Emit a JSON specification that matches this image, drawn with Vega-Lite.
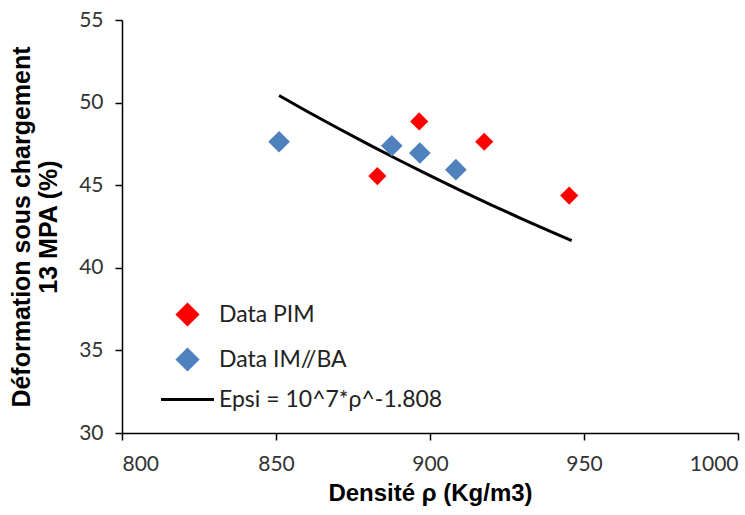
{
  "$schema": "https://vega.github.io/schema/vega-lite/v6.json",
  "autosize": {"type": "none"},
  "width": 616,
  "height": 413,
  "padding": {"left": 122, "top": 20, "right": 7, "bottom": 82},
  "background": "white",
  "config": {
    "view": {"stroke": null},
    "axis": {
      "grid": false,
      "domainColor": "black",
      "domainWidth": 1.5,
      "tickColor": "black",
      "tickWidth": 1.5,
      "tickSize": 7,
      "labelFont": "Lato",
      "labelFontSize": 21,
      "labelColor": "#333333",
      "titleFont": "Liberation Sans",
      "titleFontSize": 23,
      "titleFontWeight": "bold",
      "titleColor": "black"
    }
  },
  "datasets": {
    "pts": [
      {"rho": 882.9, "eps": 45.55, "s": "Data PIM"},
      {"rho": 896.5, "eps": 48.86, "s": "Data PIM"},
      {"rho": 917.6, "eps": 47.63, "s": "Data PIM"},
      {"rho": 945.2, "eps": 44.37, "s": "Data PIM"},
      {"rho": 851.0, "eps": 47.63, "s": "Data IM//BA"},
      {"rho": 887.6, "eps": 47.39, "s": "Data IM//BA"},
      {"rho": 896.7, "eps": 46.95, "s": "Data IM//BA"},
      {"rho": 908.4, "eps": 45.94, "s": "Data IM//BA"}
    ],
    "fit": [
      {"rho": 851, "eps": 50.43, "s": "Epsi = 10^7*ρ^-1.808"},
      {"rho": 860, "eps": 49.48, "s": "Epsi = 10^7*ρ^-1.808"},
      {"rho": 870, "eps": 48.46, "s": "Epsi = 10^7*ρ^-1.808"},
      {"rho": 880, "eps": 47.47, "s": "Epsi = 10^7*ρ^-1.808"},
      {"rho": 890, "eps": 46.51, "s": "Epsi = 10^7*ρ^-1.808"},
      {"rho": 900, "eps": 45.58, "s": "Epsi = 10^7*ρ^-1.808"},
      {"rho": 910, "eps": 44.67, "s": "Epsi = 10^7*ρ^-1.808"},
      {"rho": 920, "eps": 43.80, "s": "Epsi = 10^7*ρ^-1.808"},
      {"rho": 930, "eps": 42.95, "s": "Epsi = 10^7*ρ^-1.808"},
      {"rho": 940, "eps": 42.13, "s": "Epsi = 10^7*ρ^-1.808"},
      {"rho": 946, "eps": 41.65, "s": "Epsi = 10^7*ρ^-1.808"}
    ]
  },
  "encoding": {
    "x": {
      "field": "rho", "type": "quantitative",
      "scale": {"domain": [800, 1000], "nice": false, "zero": false},
      "axis": {"values": [800, 850, 900, 950, 1000], "format": "d", "title": "Densité ρ (Kg/m3)", "titleFontSize": 24, "labelPadding": 13, "titlePadding": 7}
    },
    "y": {
      "field": "eps", "type": "quantitative",
      "scale": {"domain": [30, 55], "nice": false, "zero": false},
      "axis": {"values": [30, 35, 40, 45, 50, 55], "title": ["Déformation sous chargement", "13 MPA (%)"], "titleFontSize": 25, "labelPadding": 12, "titlePadding": 17, "titleLineHeight": 27}
    },
    "color": {
      "field": "s", "type": "nominal",
      "scale": {
        "domain": ["Data PIM", "Data IM//BA", "Epsi = 10^7*ρ^-1.808"],
        "range": ["#FF0000", "#4F81BD", "#000000"]
      },
      "legend": {
        "title": null,
        "orient": "none",
        "legendX": 54,
        "legendY": 283,
        "padding": 0,
        "symbolSize": 400,
        "symbolType": "diamond",
        "labelFont": "Lato",
        "labelFontSize": 23,
        "labelLimit": 0,
        "labelColor": "#222222",
        "labelOffset": 20,
        "rowPadding": 12,
        "encode": {
          "symbols": {
            "update": {
              "shape": {"signal": "datum.value === 'Epsi = 10^7*ρ^-1.808' ? 'stroke' : 'diamond'"},
              "size": {"signal": "datum.value === 'Epsi = 10^7*ρ^-1.808' ? 2800 : 400"},
              "stroke": {"signal": "datum.value === 'Epsi = 10^7*ρ^-1.808' ? 'black' : 'transparent'"},
              "strokeWidth": {"value": 3},
              "fill": {"signal": "datum.value === 'Data PIM' ? '#FF0000' : (datum.value === 'Data IM//BA' ? '#4F81BD' : 'transparent')"},
              "opacity": {"value": 1},
              "fillOpacity": {"value": 1},
              "strokeOpacity": {"value": 1}
            }
          }
        }
      }
    }
  },
  "layer": [
    {
      "data": {"name": "fit"},
      "mark": {"type": "line", "strokeWidth": 3, "color": "black"},
      "encoding": {}
    },
    {
      "data": {"name": "pts"},
      "mark": {"type": "point", "shape": "diamond", "filled": true, "opacity": 1},
      "encoding": {
        "size": {
          "field": "s", "type": "nominal",
          "scale": {"domain": ["Data PIM", "Data IM//BA"], "range": [330, 470]},
          "legend": null
        }
      }
    }
  ]
}
